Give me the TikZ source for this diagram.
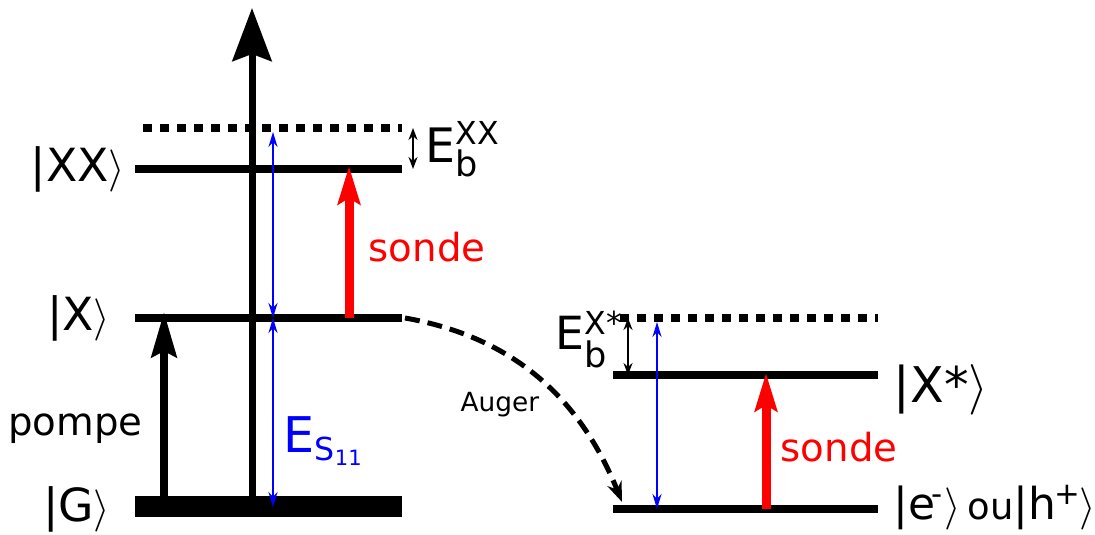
\documentclass[tikz,border=0pt]{standalone}
\usepackage{fontspec}
\setmainfont{DejaVu Sans}
\usetikzlibrary{arrows.meta}

\newcommand{\fs}[1]{\fontsize{#1}{#1}\selectfont}
\newcommand{\ketL}{|}
\newcommand{\ketR}{$\rangle$}

\begin{document}
\begin{tikzpicture}[every node/.style={inner sep=0pt},
  level/.style={line width=0.08cm},
  bound/.style={line width=0.085cm,dash pattern=on 0.085cm off 0.085cm},
  pump/.style={line width=0.08cm,-{Stealth[length=0.45cm,width=0.25cm,inset=0.06cm]}},
  probe/.style={red,line width=0.09cm,-{Stealth[length=0.38cm,width=0.22cm,inset=0.06cm]}},
  gap/.style={blue,line width=0.6pt,{Stealth[length=0.15cm,width=0.09cm]}-{Stealth[length=0.15cm,width=0.09cm]}},
  bind/.style={line width=0.6pt,{Stealth[length=0.12cm,width=0.09cm]}-{Stealth[length=0.12cm,width=0.09cm]}},
  ket/.style={font=\fs{13}}]
\useasboundingbox (0,0) rectangle (10.95,5.35);
% left: nanotube levels
\coordinate (xxbL) at (1.43,4.07); \coordinate (xxbR) at (4.02,4.07);
\coordinate (xxL) at (1.35,3.66); \coordinate (xxR) at (4.02,3.66);
\coordinate (xL) at (1.35,2.17); \coordinate (xR) at (4.02,2.17);
\coordinate (gL) at (1.35,0.28); \coordinate (gR) at (4.02,0.28);
\draw[bound] (xxbL) -- (xxbR); \draw[level] (xxL) -- (xxR); \draw[level] (xL) -- (xR);
\draw[line width=0.21cm] (gL) -- (gR);
\node[ket,anchor=east] (xx) at (1.26,3.66) {\ketL XX\ketR}; \node[ket,anchor=east] (x) at (1.11,2.17) {\ketL X\ketR};
\node[ket,anchor=east] (g) at (1.11,0.26) {\ketL G\ketR};
% arrows
\coordinate (up0) at (2.52,0.30); \coordinate (up1) at (2.52,5.27);
\draw[line width=0.07cm,-{Stealth[length=0.53cm,width=0.39cm,inset=0.07cm]}] (up0) -- (up1);
\coordinate (p0) at (1.64,0.38); \coordinate (p1) at (1.64,2.23);
\draw[pump] (p0) -- (p1); \node[font=\fs{11}] (pompe) at (0.755,1.06) {pompe};
\coordinate (b0) at (2.73,4.03); \coordinate (b1) at (2.73,2.17); \coordinate (b2) at (2.73,0.28);
\draw[gap] (b0) -- (b1); \draw[gap] (b1) -- (b2);
\node[blue,anchor=base west,font=\fs{14}] (es) at (2.83,0.82) {E$_{\hbox{\fs{9}S$_{\hbox{\fs{6}11}}$}}$};
\coordinate (s0) at (3.49,2.17); \coordinate (s1) at (3.49,3.69);
\draw[probe] (s0) -- (s1); \node[red,anchor=base west,font=\fs{11}] (sondeL) at (3.68,2.73) {sonde};
\coordinate (k0) at (4.13,4.07); \coordinate (k1) at (4.13,3.66); \draw[bind] (k0) -- (k1);
\node[anchor=base west,font=\fs{13.5}] (ebxx) at (4.25,3.72) {E$^{\hbox{\fs{9}XX}}_{\hbox{\fs{10}b}}$};
% right: charged exciton levels
\coordinate (tbL) at (6.20,2.17); \coordinate (tbR) at (8.78,2.17);
\coordinate (tL) at (6.13,1.60); \coordinate (tR) at (8.78,1.60);
\coordinate (eL) at (6.13,0.26); \coordinate (eR) at (8.78,0.26);
\draw[bound] (tbL) -- (tbR); \draw[level] (tL) -- (tR); \draw[level] (eL) -- (eR);
\node[anchor=base west,font=\fs{14}] (xs) at (8.93,1.32) {\ketL X*\ketR};
\node[anchor=base west,font=\fs{12.5}] (eh) at (8.93,0.15) {\ketL e\kern-0.1em\textsuperscript{-}\ketR\,{\fs{10.5}ou}\ketL h\kern-0.05em\textsuperscript{+}\kern-0.05em\ketR};
\coordinate (r0) at (6.28,2.17); \coordinate (r1) at (6.28,1.60); \draw[bind] (r0) -- (r1);
\node[anchor=base west,font=\fs{13}] (ebxs) at (5.55,1.85) {E$^{\hbox{\fs{9}X*}}_{\hbox{\fs{10}b}}$};
\coordinate (c0) at (6.57,2.13); \coordinate (c1) at (6.57,0.26); \draw[gap] (c0) -- (c1);
\coordinate (t0) at (7.66,0.26); \coordinate (t1) at (7.66,1.62);
\draw[probe] (t0) -- (t1); \node[red,anchor=base west,font=\fs{11}] (sondeR) at (7.80,0.73) {sonde};
% Auger
\draw[line width=0.05cm,dash pattern=on 0.15cm off 0.08cm,-{Stealth[length=0.2cm,width=0.15cm]}] (xR) ++(0.03,0) to[out=-10,in=112] (6.22,0.33);
\node[anchor=base west,font=\fs{7.5}] (auger) at (4.60,1.23) {Auger};
\end{tikzpicture}
\end{document}
